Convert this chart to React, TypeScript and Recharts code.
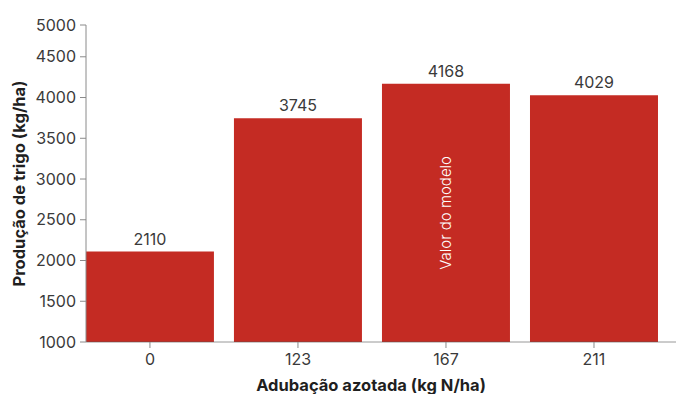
import { Bar, BarChart, LabelList, XAxis, YAxis, Label } from "recharts";

const font = "Inter, Roboto, sans-serif";
const red = "#C42B23";
const ink = "#3a3a3a";
const axisGrey = "#8a8a8a";

// nitrogen rates (kg N/ha) and modelled wheat yield (kg/ha)
const categories = ["0", "123", "167", "211"];
const yields = [2110, 3745, 4168, 4029];
const notes = ["", "", "Valor do modelo", ""];

// the top tick of the original sits a bit below a true 5000
const yTickValues = [1000, 1500, 2000, 2500, 3000, 3500, 4000, 4500, 4890];
const yTickLabels = ["1000", "1500", "2000", "2500", "3000", "3500", "4000", "4500", "5000"];

const data = categories.map((c, i) => ({ idx: i, dose: c, value: yields[i], note: notes[i] }));

function YTitle(props: any) {
  const vb = props.viewBox;
  const cx = 19;
  const cy = vb.y + vb.height / 2;
  return (
    <text
      x={cx}
      y={cy}
      transform={`rotate(-90, ${cx}, ${cy})`}
      textAnchor="middle"
      dominantBaseline="central"
      fill="#1f1f1f"
      fontFamily={font}
      fontSize={16.5}
      fontWeight={700}
    >
      Produção de trigo (kg/ha)
    </text>
  );
}

function XTitle(props: any) {
  const vb = props.viewBox;
  return (
    <text
      x={vb.x + vb.width / 2 - 10}
      y={vb.y + vb.height - 3}
      textAnchor="middle"
      fill="#1f1f1f"
      fontFamily={font}
      fontSize={16.5}
      fontWeight={700}
    >
      Adubação azotada (kg N/ha)
    </text>
  );
}

export default function App() {
  return (
    <div style={{ width: 676, height: 394, background: "#fff" }}>
      <style>{"body{margin:0}"}</style>
      <BarChart width={676} height={394} data={data} margin={{ top: 25, right: 0, bottom: 0, left: 0 }}>
        <XAxis
          dataKey="idx"
          type="number"
          domain={[-0.432, 3.554]}
          allowDataOverflow
          ticks={[0, 1, 2, 3]}
          tickFormatter={(v: number) => categories[v]}
          height={52}
          tickSize={6}
          tickMargin={6}
          tick={{ fill: ink, fontSize: 16, fontFamily: font }}
          tickLine={{ stroke: axisGrey }}
          axisLine={{ stroke: "#555", strokeOpacity: 0.6 }}
        >
          <Label content={<XTitle />} />
        </XAxis>
        <YAxis
          domain={[1000, 4890]}
          allowDataOverflow
          ticks={yTickValues}
          tickFormatter={(_v: number, i: number) => yTickLabels[i]}
          width={86}
          tickSize={6}
          tickMargin={4}
          tick={{ fill: ink, fontSize: 16, fontFamily: font }}
          tickLine={{ stroke: axisGrey }}
          axisLine={{ stroke: axisGrey }}
        >
          <Label content={<YTitle />} />
        </YAxis>
        <Bar dataKey="value" fill={red} barSize={128} isAnimationActive={false}>
          <LabelList dataKey="value" position="top" offset={7} fill={ink} fontSize={16} fontFamily={font} />
          <LabelList
            dataKey="note"
            position="center"
            angle={-90}
            fill="#ffffff"
            fontSize={15}
            fontWeight={300}
            fontFamily={font}
          />
        </Bar>
      </BarChart>
    </div>
  );
}
